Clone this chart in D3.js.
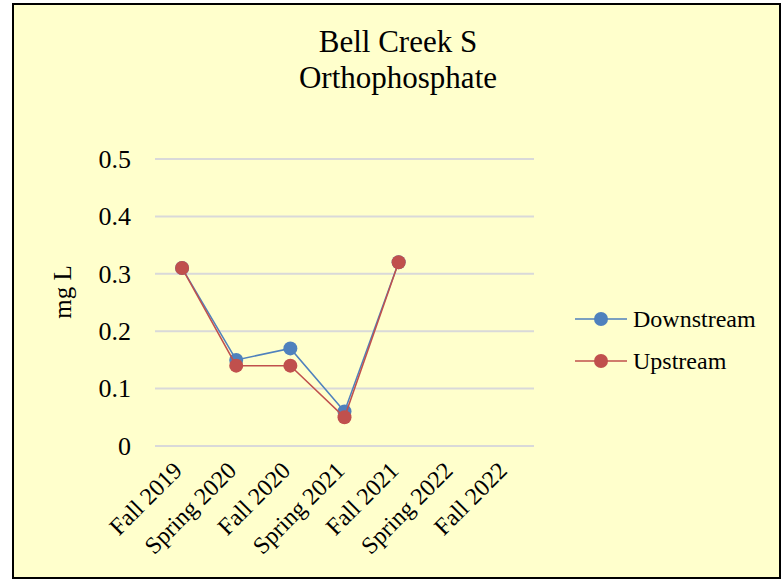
<!DOCTYPE html>
<html>
<head>
<meta charset="utf-8">
<script src="https://cdn.jsdelivr.net/npm/d3@7"></script>
<style>
  body { margin: 0; background: #fff; }
  text { font-family: "Liberation Serif", "Times New Roman", serif; fill: #000; }
</style>
</head>
<body>
<script>
// chart values
var seasons = ['Fall 2019', 'Spring 2020', 'Fall 2020', 'Spring 2021', 'Fall 2021', 'Spring 2022', 'Fall 2022'];
var downstream = [0.31, 0.15, 0.17, 0.06, 0.32, null, null];
var upstream = [0.31, 0.14, 0.14, 0.05, 0.32, null, null];
var yTicks = [0, 0.1, 0.2, 0.3, 0.4, 0.5];
var seriesNames = ['Downstream', 'Upstream'];
var seriesColors = ['#4F81BD', '#C0504D'];

var W = 782, H = 581;
var margin = { top: 159, right: 248, bottom: 135, left: 155 },
  width = W - margin.left - margin.right,
  height = H - margin.top - margin.bottom;

var svg = d3.select('body')
  .append('svg')
  .attr('width', W)
  .attr('height', H);

// chart area frame
svg.append('rect')
  .attr('x', 13)
  .attr('y', 4)
  .attr('width', 767)
  .attr('height', 574)
  .style('fill', '#FFFFCC')
  .style('stroke', '#000')
  .style('stroke-width', 2);

svg.append('text')
  .attr('x', 398)
  .attr('y', 52)
  .attr('text-anchor', 'middle')
  .style('font-size', '31px')
  .text('Bell Creek S');
svg.append('text')
  .attr('x', 398)
  .attr('y', 88)
  .attr('text-anchor', 'middle')
  .style('font-size', '31px')
  .text('Orthophosphate');

var g = svg.append('g')
  .attr('transform', 'translate(' + margin.left + ',' + margin.top + ')');

var xScale = d3.scalePoint()
  .domain(seasons)
  .range([0, width])
  .padding(0.5);

var yScale = d3.scaleLinear()
  .domain([0, 0.5])
  .range([height, 0]);

// gridlines
g.selectAll('.grid')
  .data(yTicks)
  .enter()
  .append('line')
  .attr('class', 'grid')
  .attr('x1', 0)
  .attr('x2', width)
  .attr('y1', function (d) { return yScale(d); })
  .attr('y2', function (d) { return yScale(d); })
  .style('stroke', '#D9D9D9')
  .style('stroke-width', 2);

var yAxis = d3.axisLeft(yScale)
  .tickValues(yTicks)
  .tickSize(0)
  .tickPadding(24)
  .tickFormat(function (d) { return d === 0 ? '0' : d3.format('.1f')(d); });

var yG = g.append('g').call(yAxis);
yG.select('.domain').remove();
yG.selectAll('text')
  .style('font-size', '26px')
  .style('font-family', '"Liberation Serif", serif');

var xAxis = d3.axisBottom(xScale).tickSize(0).tickPadding(0);
var xG = g.append('g')
  .attr('transform', 'translate(0,' + height + ')')
  .call(xAxis);
xG.select('.domain').remove();
xG.selectAll('text')
  .style('font-size', '24px')
  .style('font-family', '"Liberation Serif", serif')
  .attr('text-anchor', 'end')
  .attr('dy', '0.35em')
  .attr('transform', 'translate(-5,20) rotate(-45)');

svg.append('text')
  .attr('transform', 'translate(71,292) rotate(-90)')
  .attr('text-anchor', 'middle')
  .style('font-size', '25px')
  .text('mg L');

var allSeries = [downstream, upstream];

var line = d3.line()
  .defined(function (d) { return d != null; })
  .x(function (d, i) { return xScale(seasons[i]); })
  .y(function (d) { return yScale(d); });

allSeries.forEach(function (vals, s) {
  g.append('path')
    .datum(vals)
    .attr('d', line)
    .style('fill', 'none')
    .style('stroke', seriesColors[s])
    .style('stroke-width', 1.5);

  g.selectAll('.dot' + s)
    .data(vals.map(function (v, i) { return { v: v, i: i }; }).filter(function (d) { return d.v != null; }))
    .enter()
    .append('circle')
    .attr('class', 'dot' + s)
    .attr('r', 7)
    .attr('cx', function (d) { return xScale(seasons[d.i]); })
    .attr('cy', function (d) { return yScale(d.v); })
    .style('fill', seriesColors[s]);
});

// legend
var legend = svg.append('g')
  .selectAll('.legend-item')
  .data(seriesNames)
  .enter()
  .append('g')
  .attr('class', 'legend-item')
  .attr('transform', function (d, i) { return 'translate(575,' + (319 + i * 42) + ')'; });

legend.append('line')
  .attr('x1', 0)
  .attr('x2', 52)
  .style('stroke', function (d, i) { return seriesColors[i]; })
  .style('stroke-width', 1.5);

legend.append('circle')
  .attr('cx', 26)
  .attr('r', 7)
  .style('fill', function (d, i) { return seriesColors[i]; });

legend.append('text')
  .attr('x', 58)
  .attr('dy', '0.35em')
  .style('font-size', '24px')
  .text(function (d) { return d; });
</script>
</body>
</html>
